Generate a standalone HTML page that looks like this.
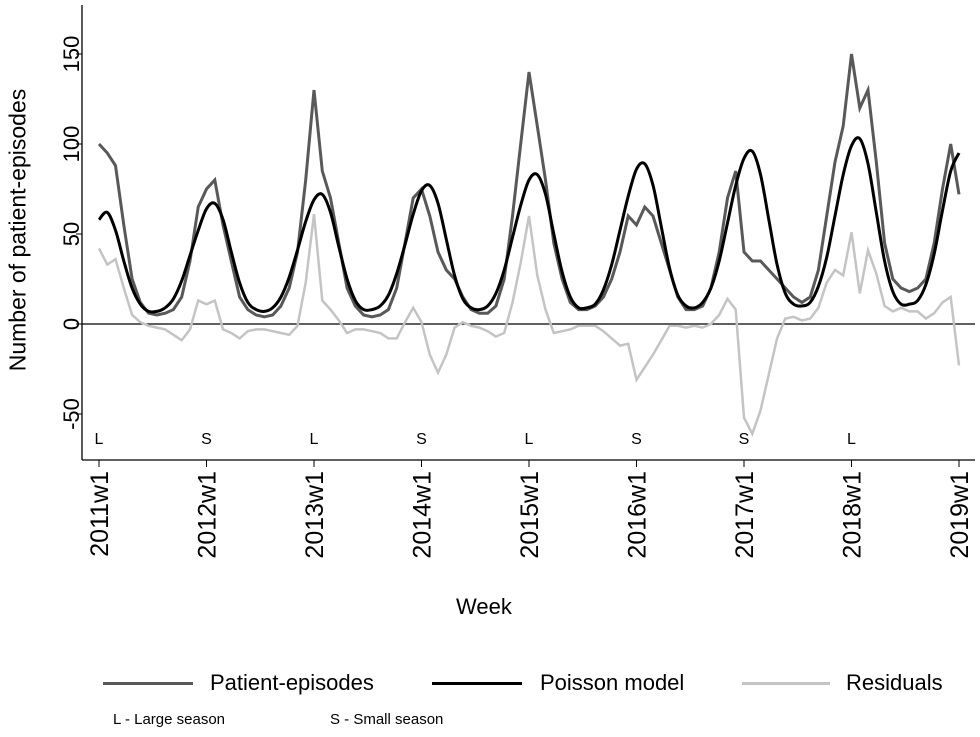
<!DOCTYPE html>
<html><head><meta charset="utf-8"><style>
body{margin:0;background:#fff;}
svg{display:block;font-family:"Liberation Sans",sans-serif;}
</style></head><body>
<svg id="c" width="980" height="737"></svg>
<script>
const years=[2011,2012,2013,2014,2015,2016,2017,2018,2019];
const seasonLabels=["L","S","L","S","L","S","S","L"];
const yTicks=[-50,0,50,100,150];
const observed=[
100,95,88,55,25,12,6,5,6,8,15,35,65,
75,80,55,35,15,8,5,4,5,10,20,40,80,
130,85,70,45,20,10,5,4,5,8,20,45,70,
75,60,40,30,25,15,8,6,6,10,25,60,100,
140,110,80,45,25,12,8,8,10,15,25,40,60,
55,65,60,45,30,15,8,8,10,20,40,70,85,
40,35,35,30,25,20,15,12,15,30,60,90,110,
150,120,130,90,45,25,20,18,20,25,45,75,100,
72];
const model=[
58,62,52,35,20,11,7,7,9,14,24,38,52,
64,67,58,40,23,12,8,7,9,15,26,41,57,
69,72,62,43,25,13,8,8,10,16,28,44,61,
74,77,67,47,27,14,9,8,10,17,30,48,66,
80,83,72,50,29,15,9,9,11,19,33,52,71,
86,89,77,54,31,16,10,9,12,20,35,56,77,
92,96,83,58,33,17,11,10,12,21,37,60,83,
99,103,89,62,35,18,11,11,13,22,39,63,85,
95];
const NS="http://www.w3.org/2000/svg";
const svg=document.getElementById('c');
const X=t=>99+(t-2011)*107.5;
const Y=v=>324-v*1.8;
const tOf=i=>2011+i/13;
function el(tag,attrs,parent){const e=document.createElementNS(NS,tag);for(const k in attrs)e.setAttribute(k,attrs[k]);(parent||svg).appendChild(e);return e;}
let a=el('line',{x1:82,y1:5,x2:82,y2:460,stroke:'#000','stroke-width':1.3});


a=el('line',{x1:82,y1:460,x2:975,y2:460,stroke:'#000','stroke-width':1.3});


a=el('line',{x1:82,y1:Y(0),x2:975,y2:Y(0),stroke:'#000','stroke-width':1.3});


yTicks.forEach(v=>{
 let t=el('line',{x1:76,y1:Y(v),x2:82,y2:Y(v),stroke:'#000'});
 
 
 let tx=el('text',{x:0,y:0,transform:`translate(79,${Y(v)}) rotate(-90)`,'text-anchor':'middle','font-size':22,fill:'#000'});
 tx.textContent=v;
 
 
});
years.forEach((yr,i)=>{
 let t=el('line',{x1:X(yr),y1:460,x2:X(yr),y2:467,stroke:'#000'});
 
 
 let tx=el('text',{x:0,y:0,transform:`translate(${X(yr)+9},471) rotate(-90)`,'text-anchor':'end','font-size':25,fill:'#000'});
 tx.textContent=yr+'w1';
 
 
 if(i<seasonLabels.length){
  let s=el('text',{x:X(yr),y:444,'text-anchor':'middle','font-size':16,fill:'#000'});
  s.textContent=seasonLabels[i];
  
  
 }
});
function poly(vals){return vals.map((v,i)=>X(tOf(i)).toFixed(1)+','+Y(v).toFixed(1)).join(' ');}
function smooth(vals){
 const p=vals.map((v,i)=>[X(tOf(i)),Y(v)]);let d='M'+p[0][0]+','+p[0][1];
 for(let i=0;i<p.length-1;i++){const p0=p[i-1]||p[i],p1=p[i],p2=p[i+1],p3=p[i+2]||p2;
  d+=` C${p1[0]+(p2[0]-p0[0])/6},${p1[1]+(p2[1]-p0[1])/6} ${p2[0]-(p3[0]-p1[0])/6},${p2[1]-(p3[1]-p1[1])/6} ${p2[0]},${p2[1]}`;}
 return d;}
const resid=observed.map((v,i)=>v-model[i]);
let r=el('polyline',{points:poly(resid),fill:'none',stroke:'#c4c4c4','stroke-width':2.5});


let o=el('polyline',{points:poly(observed),fill:'none',stroke:'#595959','stroke-width':3});


let m=el('path',{d:smooth(model),fill:'none',stroke:'#000','stroke-width':3});


</script>
<div style="position:absolute;left:0;top:0;width:980px;height:737px;pointer-events:none;font-family:'Liberation Sans',sans-serif;">
 <div style="position:absolute;left:18px;top:230px;transform:translate(-50%,-50%) rotate(-90deg);font-size:23px;white-space:nowrap;">Number of patient-episodes</div>
 <div style="position:absolute;left:456px;top:594px;font-size:22px;">Week</div>
 <div style="position:absolute;left:0;top:670px;width:980px;height:30px;font-size:22px;">
  <div style="position:absolute;left:103px;top:12px;width:90px;height:3px;background:#595959"></div>
  <div style="position:absolute;left:210px;top:0">Patient-episodes</div>
  <div style="position:absolute;left:432px;top:12px;width:90px;height:3px;background:#000"></div>
  <div style="position:absolute;left:540px;top:0">Poisson model</div>
  <div style="position:absolute;left:742px;top:12px;width:88px;height:3px;background:#c4c4c4"></div>
  <div style="position:absolute;left:846px;top:0">Residuals</div>
 </div>
 <div style="position:absolute;left:113px;top:711px;font-size:15px;">L - Large season</div>
 <div style="position:absolute;left:330px;top:711px;font-size:15px;">S - Small season</div>
</div>
</body></html>
